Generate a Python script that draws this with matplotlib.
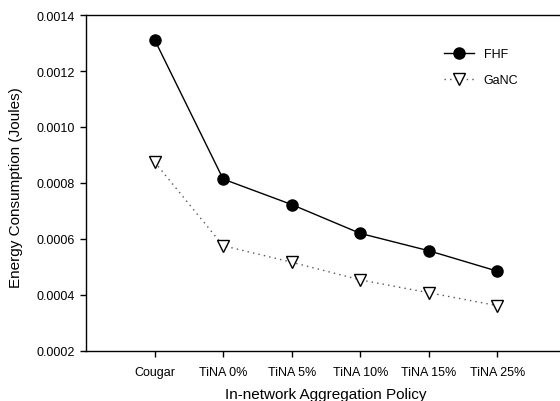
import numpy as np
import matplotlib.pyplot as plt

plt.rcParams['font.family'] = ['Liberation Sans', 'DejaVu Sans']

# Data
policies = ["Cougar", "TiNA 0%", "TiNA 5%", "TiNA 10%", "TiNA 15%", "TiNA 25%"]
fhf = [0.001312, 0.000814, 0.000723, 0.000620, 0.000558, 0.000485]
ganc = [0.000875, 0.000576, 0.000517, 0.000454, 0.000408, 0.000362]

x = np.arange(1, len(policies) + 1)

fig = plt.figure(figsize=(5.6, 4.02), dpi=100)
ax = fig.add_axes([86 / 560, 1 - 352 / 402, 480 / 560, 336 / 402])

ax.plot(x, fhf, color="black", linewidth=1, marker="o", markersize=8,
        markerfacecolor="black", label="FHF")
ax.plot(x, ganc, color="#555555", linewidth=1, linestyle=(0, (1, 3)), marker="v",
        markersize=8, markerfacecolor="white", markeredgecolor="black",
        markeredgewidth=1, label="GaNC")

ax.set_xlim(0, 7)
ax.set_ylim(0.0002, 0.0014)
ax.set_xticks(x)
ax.set_xticklabels(policies, fontsize=9)
ax.set_yticks([0.0002, 0.0004, 0.0006, 0.0008, 0.0010, 0.0012, 0.0014])
ax.set_yticklabels(["0.0002", "0.0004", "0.0006", "0.0008", "0.0010", "0.0012", "0.0014"],
                   fontsize=9)
ax.tick_params(direction="out", length=4, width=1, pad=4)
ax.tick_params(axis="x", pad=7)
ax.spines["right"].set_visible(False)
for s in ["left", "top", "bottom"]:
    ax.spines[s].set_linewidth(1)

ax.set_xlabel("In-network Aggregation Policy", fontsize=11, labelpad=6)
ax.set_ylabel("Energy Consumption (Joules)", fontsize=11)
ax.yaxis.set_label_coords(-0.131, 0.49)

ax.legend(loc="center left", bbox_to_anchor=(0.745, 0.845), frameon=False,
          fontsize=9, handlelength=2.4, labelspacing=1.1, handletextpad=0.8,
          borderpad=0, borderaxespad=0)

plt.savefig("out.png", dpi=100)
